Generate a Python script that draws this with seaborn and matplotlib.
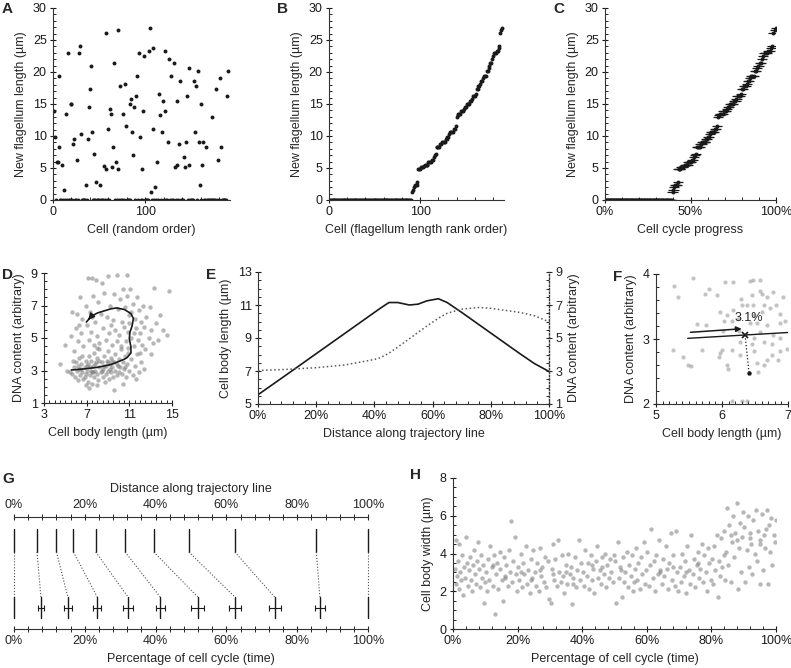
import numpy as np
import seaborn as sns
import matplotlib.pyplot as plt
from matplotlib.ticker import MultipleLocator, PercentFormatter

sns.set_theme(style="ticks")
plt.rcParams['font.family'] = ['Liberation Sans', 'DejaVu Sans']
plt.rcParams['font.size'] = 9
plt.rcParams['axes.labelsize'] = 9
plt.rcParams['xtick.labelsize'] = 9
plt.rcParams['ytick.labelsize'] = 9

# ---- A/B/C: new flagellum length per cell (cells without a new flagellum are 0)
n_cells = 190
flag_cell = [1, 2, 4, 5, 6, 7, 10, 12, 14, 16, 19, 20, 22, 23, 26, 28, 29, 30, 36, 38,
             39, 40, 41, 42, 44, 47, 51, 55, 57, 58, 60, 62, 63, 64, 65, 66, 68, 70, 71, 73,
             76, 78, 79, 83, 85, 86, 87, 88, 90, 91, 93, 94, 96, 98, 99, 104, 105, 106, 108, 109,
             111, 113, 115, 116, 118, 119, 121, 122, 125, 126, 128, 131, 132, 134, 135, 137, 138, 142, 143, 144,
             145, 147, 148, 153, 154, 155, 157, 158, 159, 160, 162, 163, 166, 172, 177, 179, 181, 182, 189, 190]
flag_len = [13.9, 9.9, 6.0, 6.0, 8.3, 19.4, 5.5, 1.6, 13.4, 22.9, 15.0, 15.0, 8.7, 9.5, 6.3, 22.9, 24.1, 10.3, 2.4, 9.5,
            14.6, 17.4, 21.0, 10.6, 7.2, 2.8, 2.4, 5.3, 4.8, 26.1, 11.1, 14.2, 13.4, 5.2, 8.3, 21.4, 5.9, 26.5, 4.8, 17.8,
            13.4, 18.2, 11.5, 15.0, 15.8, 10.6, 7.1, 14.6, 16.2, 19.4, 22.9, 9.9, 4.8, 13.9, 22.5, 23.3, 26.9, 1.2, 23.8, 11.1,
            2.0, 5.9, 16.5, 13.3, 10.6, 15.4, 23.3, 13.9, 9.1, 22.1, 19.4, 21.4, 5.1, 5.5, 15.5, 8.7, 18.6, 6.7, 5.1, 9.1,
            16.2, 5.5, 20.6, 18.6, 10.6, 17.8, 20.1, 9.1, 2.3, 15.0, 5.5, 9.1, 8.3, 13.0, 17.4, 6.3, 19.0, 8.3, 16.2, 20.1]
cycle_err = 3.0  # horizontal error on cell cycle progress (%)

# ---- D: DNA content vs cell body length
d_cloud = [(5.6,2.8),(5.8,3.2),(5.9,2.6),(6.0,3.5),(6.1,3.0),(6.2,2.4),(6.3,3.8),(6.3,3.1),(6.4,2.7),(6.5,3.4),
           (6.6,2.9),(6.6,3.9),(6.7,2.5),(6.8,3.2),(6.9,3.6),(6.9,2.8),(7.0,3.0),(7.1,2.3),(7.1,3.4),(7.2,3.9),
           (7.3,2.7),(7.3,3.2),(7.4,3.6),(7.5,2.9),(7.5,2.2),(7.6,3.3),(7.7,4.1),(7.7,2.6),(7.8,3.0),(7.9,3.5),
           (8.0,2.8),(8.0,3.8),(8.1,2.4),(8.2,3.2),(8.2,4.3),(8.3,2.9),(8.4,3.5),(8.5,2.6),(8.5,3.1),(8.6,3.9),
           (8.7,2.3),(8.8,3.3),(8.8,2.8),(8.9,3.6),(9.0,3.0),(9.0,4.2),(9.1,2.5),(9.2,3.4),(9.3,2.9),(9.3,3.8),
           (9.4,3.2),(9.5,2.6),(9.6,3.5),(9.7,3.0),(9.7,4.0),(9.8,2.7),(9.9,3.3),(10.0,3.7),(10.0,2.9),(10.1,3.2),
           (10.2,4.3),(10.3,2.8),(10.4,3.5),(10.5,3.1),(10.6,3.9),(10.7,2.6),(10.8,3.4),(10.9,4.1),(11.0,3.0),(11.2,3.7),
           (11.3,2.7),(11.5,3.3),(11.7,4.0),(11.9,2.9),(12.1,3.5),(7.0,3.3),(7.4,3.0),(7.8,3.4),(8.2,3.6),(8.6,3.3),
           (9.0,3.5),(9.4,3.6),(9.8,3.4),(6.5,3.1),(6.8,2.6),(7.6,2.9),(8.4,3.0),(9.2,3.1),(10.6,3.2),(6.2,3.3),
           (5.7,3.6),(5.4,2.9),(4.5,3.4),(7.2,1.9),(9.6,1.8),(8.0,2.1),(10.4,2.2),(6.9,2.1),(11.6,2.5),(12.4,3.1),
           (5.2,3.0),(5.0,4.6),(5.5,5.1),(5.8,4.2),(6.0,5.6),(6.1,6.5),(6.2,4.8),(6.4,7.5),(6.5,5.3),(6.6,6.2),
           (6.7,4.5),(6.9,7.0),(7.0,5.8),(7.1,8.7),(7.2,4.9),(7.3,6.6),(7.4,5.4),(7.6,7.6),(7.7,4.6),(7.8,6.0),
           (7.9,8.6),(8.0,5.1),(8.1,7.2),(8.2,4.7),(8.3,6.5),(8.5,5.6),(8.6,7.8),(8.8,4.9),(8.9,6.3),(9.0,8.8),
           (9.1,5.3),(9.2,7.0),(9.4,4.6),(9.5,6.1),(9.6,7.7),(9.7,5.5),(9.8,4.8),(9.9,6.8),(10.0,5.2),(10.1,7.4),
           (10.2,4.5),(10.3,6.0),(10.4,8.0),(10.5,5.7),(10.6,6.9),(10.7,4.8),(10.8,7.6),(10.9,5.4),(11.0,6.4),(11.1,8.0),
           (11.2,5.0),(11.3,7.1),(11.4,4.5),(11.5,6.2),(11.6,5.6),(11.7,7.5),(11.8,4.9),(11.9,6.7),(12.0,5.3),(12.1,6.0),
           (12.2,4.6),(12.3,7.0),(12.4,5.7),(12.5,4.3),(12.6,6.3),(12.8,5.0),(12.9,6.9),(13.0,5.5),(13.2,4.7),(13.3,8.1),
           (13.5,5.9),(13.7,4.9),(13.9,6.4),(14.2,5.5),(14.5,5.2),(14.7,7.9),(10.8,8.9),(9.8,8.9),(8.4,8.4),(7.5,8.7),
           (11.0,5.9),(11.2,6.6),(10.9,4.4),(11.4,5.3),(6.3,5.8),(7.5,6.3),(8.0,4.4),(9.3,5.8),(12.0,4.1),(13.0,4.0),
           (5.6,6.6)]

# ---- E (and D trajectory): values along the trajectory line
traj_dist = [0, 10, 20, 30, 40, 42, 45, 48, 52, 55, 58, 62, 65, 70, 76, 80, 90, 95, 100]
traj_body = [5.56, 6.8, 8.05, 9.3, 10.55, 10.8, 11.15, 11.15, 11.0, 11.05, 11.25, 11.38, 11.15, 10.55,
             9.8, 9.3, 8.05, 7.45, 6.97]
traj_dna = [3.03, 3.1, 3.2, 3.37, 3.7, 3.8, 4.08, 4.45, 4.95, 5.34, 5.72, 6.2, 6.5, 6.75,
            6.85, 6.8, 6.55, 6.35, 5.98]

# ---- F: zoom on the trajectory start
f_cloud = [(5.28,3.81),(5.34,3.65),(5.56,3.94),(5.74,3.70),(5.81,3.77),(5.92,3.67),(6.05,3.88),(6.17,3.87),
           (6.29,3.62),(6.30,3.53),(6.42,3.89),(6.47,3.91),(6.58,3.91),(6.57,3.74),(6.60,3.70),(6.68,3.65),
           (6.45,3.68),(6.38,3.52),(6.47,3.52),(6.63,3.52),(6.78,3.73),(6.93,3.65),(6.82,3.52),(6.88,3.39),
           (6.96,3.27),(6.88,3.24),(6.72,3.47),(6.61,3.41),(6.48,3.37),(6.42,3.24),(6.53,3.24),(6.68,3.22),
           (6.24,3.31),(6.15,3.27),(6.07,3.37),(6.03,3.27),(5.97,3.41),(6.17,3.45),(5.62,3.23),(5.76,3.22),
           (6.01,3.12),(6.25,3.12),(6.58,3.11),(6.78,3.06),(6.88,3.01),(6.48,3.01),(6.28,2.96),(6.45,2.93),
           (6.63,2.96),(6.76,2.93),(6.88,2.81),(6.98,2.85),(6.76,2.75),(6.68,2.68),(6.63,2.60),(6.53,2.63),
           (6.48,2.82),(6.28,2.75),(6.15,2.83),(6.00,2.83),(5.97,2.78),(5.96,2.73),(6.08,2.60),(6.09,2.54),
           (5.69,2.83),(5.26,2.83),(5.41,2.73),(5.49,2.60),(5.53,2.59),(6.54,2.50),(6.30,2.04),(6.38,2.04),
           (6.15,2.05),(6.85,2.68)]
f_arrow = [(5.48, 3.10), (6.34, 3.16)]
f_line = [(5.48, 3.01), (7.0, 3.10)]
f_cross = (6.35, 3.06)
f_drop = (6.41, 2.47)

# ---- G: trajectory distance vs cell cycle time
g_traj = [0, 6.5, 12.0, 16.8, 23.1, 31.4, 39.5, 49.4, 62.4, 85.4, 100]
g_cycle = [0, 7.6, 15.2, 23.5, 32.2, 41.3, 51.9, 62.4, 73.6, 86.4, 100]
g_err = [0, 0.85, 1.1, 1.2, 1.4, 1.3, 1.8, 1.7, 1.7, 1.5, 0]

# ---- H: cell body width vs cell cycle
h_cloud = [(0.5,3.2),(0.8,2.4),(1.0,4.7),(1.2,2.8),(1.5,3.6),(1.8,2.1),(2.0,4.5),(2.3,3.0),(2.6,2.6),(2.9,3.9),
           (3.2,1.8),(3.5,3.3),(3.8,2.7),(4.1,4.9),(4.4,3.5),(4.7,2.3),(5.0,3.1),(5.3,3.8),(5.6,2.6),(5.9,2.0),
           (6.2,3.4),(6.5,4.2),(6.8,2.9),(7.1,2.4),(7.4,3.6),(7.7,4.6),(8.0,3.2),(8.3,2.2),(8.6,3.9),(8.9,2.7),
           (9.2,3.4),(9.5,1.4),(9.8,2.5),(10.2,3.0),(10.5,2.0),(10.9,3.7),(11.2,2.6),(11.6,4.4),(12.0,3.3),(12.3,2.3),
           (12.7,3.9),(13.0,0.8),(13.3,2.9),(13.7,3.5),(14.0,2.1),(14.4,4.1),(14.7,3.2),(15.1,2.6),(15.4,1.5),(15.8,3.8),
           (16.2,2.8),(16.5,3.4),(16.9,2.3),(17.2,4.2),(17.6,3.0),(18.0,5.7),(18.3,2.5),(18.7,3.6),(19.1,4.9),(19.4,2.9),
           (19.8,2.0),(12.5,3.4),(16.0,2.7),(20.2,3.3),(20.5,2.6),(20.9,4.0),(21.3,2.2),(21.7,3.5),(22.1,2.9),(22.5,4.4),
           (22.9,2.4),(23.3,3.1),(23.7,1.9),(24.1,3.7),(24.5,2.7),(24.9,4.2),(25.3,3.0),(25.7,2.3),(26.1,3.5),(26.5,2.0),
           (26.9,4.3),(27.3,2.8),(27.7,3.3),(28.1,2.5),(28.5,3.8),(28.9,2.2),(29.3,3.6),(29.7,1.6),(21.0,3.0),(24.0,2.6),
           (27.0,3.1),(30.2,1.4),(30.5,3.2),(30.9,4.5),(31.3,2.6),(31.7,3.7),(32.1,2.3),(32.5,4.7),(32.9,3.0),(33.3,2.5),
           (33.7,3.9),(34.1,2.8),(34.5,1.9),(34.9,3.4),(35.3,2.4),(35.7,4.0),(36.1,2.9),(36.5,3.3),(36.9,1.3),(37.3,2.7),
           (37.7,3.8),(38.1,2.2),(38.5,3.1),(38.9,4.7),(39.3,2.6),(39.7,3.5),(31.0,2.9),(35.0,3.0),(37.0,2.4),(40.2,3.0),
           (40.6,2.3),(41.0,4.2),(41.4,2.8),(41.8,3.5),(42.2,2.1),(42.6,3.9),(43.0,2.6),(43.4,3.2),(43.8,1.9),(44.2,3.6),
           (44.6,4.4),(45.0,2.7),(45.4,3.1),(45.8,2.4),(46.2,3.8),(46.6,2.9),(47.0,4.0),(47.4,2.2),(47.8,3.4),(48.2,2.7),
           (48.6,3.7),(49.0,3.0),(49.4,2.5),(49.8,3.9),(43.0,3.4),(46.0,3.3),(50.2,3.6),(50.6,1.4),(51.0,4.6),(51.4,2.7),
           (51.8,3.3),(52.2,1.7),(52.6,3.8),(53.0,2.5),(53.4,3.0),(53.8,4.1),(54.2,2.2),(54.6,3.4),(55.0,2.8),(55.4,3.9),
           (55.8,2.0),(56.2,3.2),(56.6,4.3),(57.0,2.6),(57.4,3.5),(57.8,2.1),(58.2,3.8),(58.6,2.9),(59.0,4.6),(59.4,2.4),
           (59.8,3.1),(52.0,3.1),(56.0,2.5),(60.2,4.1),(60.6,2.3),(61.0,3.4),(61.4,5.3),(61.8,2.7),(62.2,3.6),(62.6,2.0),
           (63.0,3.9),(63.4,2.9),(63.8,4.7),(64.2,3.1),(64.6,2.4),(65.0,3.7),(65.4,2.8),(65.8,4.4),(66.2,3.2),(66.6,2.1),
           (67.0,3.5),(67.4,5.1),(67.8,2.6),(68.2,3.9),(68.6,2.3),(69.0,5.2),(69.4,3.0),(69.8,2.0),(64.0,3.0),(68.0,3.3),
           (70.2,3.3),(70.6,2.5),(71.0,4.0),(71.4,2.8),(71.8,3.6),(72.2,1.9),(72.6,4.4),(73.0,3.1),(73.4,2.4),(73.8,5.0),
           (74.2,2.9),(74.6,3.7),(75.0,2.2),(75.4,3.4),(75.8,4.1),(76.2,2.7),(76.6,3.2),(77.0,4.5),(77.4,2.5),(77.8,3.9),
           (78.2,3.0),(78.6,2.0),(79.0,4.3),(79.4,3.5),(79.8,2.6),(72.0,3.0),(76.0,3.5),(80.2,3.7),(80.5,2.4),(80.9,4.4),
           (81.2,3.1),(81.6,5.0),(82.0,1.7),(82.3,3.6),(82.7,2.8),(83.0,4.8),(83.4,3.3),(83.8,5.2),(84.1,2.6),(84.5,4.1),
           (84.9,6.4),(85.2,3.4),(85.6,5.5),(86.0,2.5),(86.3,4.6),(86.7,6.0),(87.1,3.8),(87.4,5.1),(87.8,6.7),(88.2,2.1),
           (88.5,4.3),(88.9,5.6),(89.3,3.0),(89.6,4.9),(89.9,6.2),(84.0,3.9),(86.0,5.0),(88.0,4.7),(90.2,5.4),(90.5,2.5),
           (90.9,4.2),(91.2,6.0),(91.6,3.3),(92.0,5.1),(92.3,4.5),(92.7,2.9),(93.0,5.8),(93.4,4.0),(93.8,6.3),(94.1,3.6),
           (94.5,5.2),(94.9,2.4),(95.2,4.7),(95.6,6.1),(96.0,3.1),(96.3,5.0),(96.7,4.3),(97.1,6.3),(97.4,2.4),(97.8,5.5),
           (98.2,4.1),(98.5,5.9),(98.9,3.4),(99.3,5.0),(99.6,4.6),(99.9,5.8),(92.0,4.8),(95.0,4.5),(97.0,5.3)]

# ---------------------------------------------------------------
W, H = 791, 668
fig = plt.figure(figsize=(W / 100, H / 100), dpi=100)


def px_axes(x0, y0, x1, y1):
    return fig.add_axes([x0 / W, 1 - y1 / H, (x1 - x0) / W, (y1 - y0) / H])


def style(ax, xminor=None, yminor=None):
    sns.despine(ax=ax)
    ax.tick_params(which='major', direction='inout', length=5, width=0.8, pad=2, colors='0.1')
    ax.tick_params(which='minor', direction='in', length=2.5, width=0.7)
    if xminor:
        ax.xaxis.set_minor_locator(MultipleLocator(xminor))
    if yminor:
        ax.yaxis.set_minor_locator(MultipleLocator(yminor))
    for s in ax.spines.values():
        s.set_linewidth(0.8)
        s.set_color('0.2')


def letter(x, y, s):
    fig.text(x / W, 1 - y / H, s, weight='bold', fontsize=11, va='top', ha='left')


grey = '#7a7a7a'
cells = np.arange(1, n_cells + 1)
lengths = np.zeros(n_cells)
lengths[np.array(flag_cell) - 1] = flag_len
ranked = np.sort(lengths)
# cell cycle position from rank, for an exponentially growing population
progress = -np.log2(1 - cells / (2 * n_cells)) * 100

# A
ax = px_axes(53, 8, 230, 200)
sns.scatterplot(x=cells, y=lengths, ax=ax, color='k', s=8, linewidth=0, legend=False)
ax.set_xlim(0, 192)
ax.set_ylim(0, 30)
ax.set_xticks([0, 100])
ax.set_yticks(range(0, 31, 5))
style(ax, 20, 1)
ax.set_xlabel('Cell (random order)')
ax.set_ylabel('New flagellum length (µm)')
letter(2, 2, 'A')

# B
ax = px_axes(329, 8, 504, 200)
sns.scatterplot(x=cells, y=ranked, ax=ax, color='k', s=8, linewidth=0, legend=False)
ax.set_xlim(0, 192)
ax.set_ylim(0, 30)
ax.set_xticks([0, 100])
ax.set_yticks(range(0, 31, 5))
style(ax, 20, 1)
ax.set_xlabel('Cell (flagellum length rank order)')
ax.set_ylabel('New flagellum length (µm)')
letter(277, 2, 'B')

# C
ax = px_axes(605, 8, 776, 200)
ax.errorbar(progress, ranked, xerr=cycle_err, fmt='none', ecolor='k', elinewidth=0.9)
sns.scatterplot(x=progress, y=ranked, ax=ax, color='k', s=8, linewidth=0, legend=False)
ax.set_xlim(0, 100)
ax.set_ylim(0, 30)
ax.set_xticks([0, 50, 100])
ax.set_yticks(range(0, 31, 5))
ax.xaxis.set_major_formatter(PercentFormatter(100, decimals=0))
style(ax, 10, 1)
ax.set_xlabel('Cell cycle progress')
ax.set_ylabel('New flagellum length (µm)')
letter(553, 2, 'C')

# D
d = np.array(d_cloud)
ax = px_axes(44, 273, 172, 403)
sns.scatterplot(x=d[:, 0], y=d[:, 1], ax=ax, color=grey, alpha=0.55, s=10, linewidth=0, legend=False)
ax.plot(traj_body, traj_dna, color='k', lw=1.2)
ax.annotate('', xy=(traj_body[-1], traj_dna[-1]), xytext=(traj_body[-2], traj_dna[-2]),
            arrowprops=dict(arrowstyle='-|>', color='k', lw=1.2, mutation_scale=9))
ax.set_xlim(3, 15)
ax.set_ylim(1, 9)
ax.set_xticks([3, 7, 11, 15])
ax.set_yticks([1, 3, 5, 7, 9])
style(ax, 0.5, 0.5)
ax.set_xlabel('Cell body length (µm)')
ax.set_ylabel('DNA content (arbitrary)')
letter(2, 268, 'D')

# E
ax = px_axes(258, 272, 549, 404)
sns.lineplot(x=traj_dist, y=traj_body, ax=ax, color='k', lw=1.2)
ax.set_xlim(0, 100)
ax.set_ylim(5, 13)
ax.set_yticks([5, 7, 9, 11, 13])
ax.set_xticks(range(0, 101, 20))
ax.xaxis.set_major_formatter(PercentFormatter(100, decimals=0))
style(ax, 4, 0.5)
ax.set_xlabel('Distance along trajectory line')
ax.set_ylabel('Cell body length (µm)')
ax2 = ax.twinx()
ax2.plot(traj_dist, traj_dna, color='0.35', lw=1.1, ls=':')
ax2.set_ylim(1, 9)
ax2.set_yticks([1, 3, 5, 7, 9])
ax2.yaxis.set_minor_locator(MultipleLocator(0.5))
for s in ['top', 'left', 'bottom']:
    ax2.spines[s].set_visible(False)
ax2.spines['right'].set_linestyle((0, (1, 1.5)))
ax2.spines['right'].set_linewidth(1.0)
ax2.spines['right'].set_color('0.2')
ax2.tick_params(which='major', direction='inout', length=5, width=0.8, pad=2)
ax2.tick_params(which='minor', direction='in', length=2.5, width=0.7)
ax2.set_ylabel('DNA content (arbitrary)')
ax2.grid(False)
letter(206, 268, 'E')

# F
f = np.array(f_cloud)
ax = px_axes(656, 274, 788, 404)
sns.scatterplot(x=f[:, 0], y=f[:, 1], ax=ax, color=grey, alpha=0.45, s=9, linewidth=0, legend=False)
ax.annotate('', xy=f_arrow[1], xytext=f_arrow[0],
            arrowprops=dict(arrowstyle='-|>', color='k', lw=1.1, mutation_scale=8))
ax.plot([p[0] for p in f_line], [p[1] for p in f_line], color='k', lw=1.0)
ax.plot([f_cross[0], f_drop[0]], [f_cross[1], f_drop[1]], color='k', lw=0.9, ls=':')
ax.plot(*f_cross, marker='x', color='k', ms=5, mew=1.2)
ax.plot(*f_drop, marker='o', color='k', ms=2.2)
ax.text(6.4, 3.33, '3.1%', ha='center', va='center', fontsize=9)
ax.set_xlim(5, 7)
ax.set_ylim(2, 4)
ax.set_xticks([5, 6, 7])
ax.set_yticks([2, 3, 4])
style(ax, 0.1, 0.2)
ax.set_xlabel('Cell body length (µm)')
ax.set_ylabel('DNA content (arbitrary)')
letter(613, 270, 'F')

# G
ax = px_axes(14, 517, 368, 629)
for t, c, e in zip(g_traj, g_cycle, g_err):
    ax.plot([t, t], [0.6875, 0.893], color='k', lw=1.0, clip_on=False)
    ax.plot([t, c], [0.6875, 0.286], color='0.3', lw=0.8, ls=':', clip_on=False)
    ax.plot([c, c], [0.098, 0.286], color='k', lw=1.0, clip_on=False)
    if e > 0:
        ax.errorbar(c, 0.19, xerr=e, fmt='none', ecolor='k', elinewidth=0.8, capsize=2.5, capthick=0.8)
ax.set_xlim(0, 100)
ax.set_ylim(0, 1)
ax.set_yticks([])
ax.set_xticks(range(0, 101, 20))
ax.xaxis.set_major_formatter(PercentFormatter(100, decimals=0))
for s in ['left', 'right']:
    ax.spines[s].set_visible(False)
for s in ['top', 'bottom']:
    ax.spines[s].set_linewidth(0.8)
    ax.spines[s].set_color('0.2')
ax.xaxis.set_minor_locator(MultipleLocator(4))
ax.tick_params(axis='x', which='both', top=True, labeltop=True, bottom=True, labelbottom=True)
ax.tick_params(which='major', direction='inout', length=5, width=0.8, pad=2)
ax.tick_params(which='minor', direction='inout', length=4, width=0.7)
ax.set_xlabel('Percentage of cell cycle (time)')
ax.text(50, 1.2, 'Distance along trajectory line', ha='center', va='bottom', fontsize=9)
letter(2, 472, 'G')

# H
h = np.array(h_cloud)
ax = px_axes(453, 478, 776, 629)
sns.scatterplot(x=h[:, 0], y=h[:, 1], ax=ax, color=grey, alpha=0.55, s=10, linewidth=0, legend=False)
ax.set_xlim(0, 100)
ax.set_ylim(0, 8)
ax.set_xticks(range(0, 101, 20))
ax.set_yticks([0, 2, 4, 6, 8])
ax.xaxis.set_major_formatter(PercentFormatter(100, decimals=0))
style(ax, 4, 0.5)
ax.set_xlabel('Percentage of cell cycle (time)')
ax.set_ylabel('Cell body width (µm)')
letter(410, 468, 'H')

fig.savefig('out.png', dpi=100)
